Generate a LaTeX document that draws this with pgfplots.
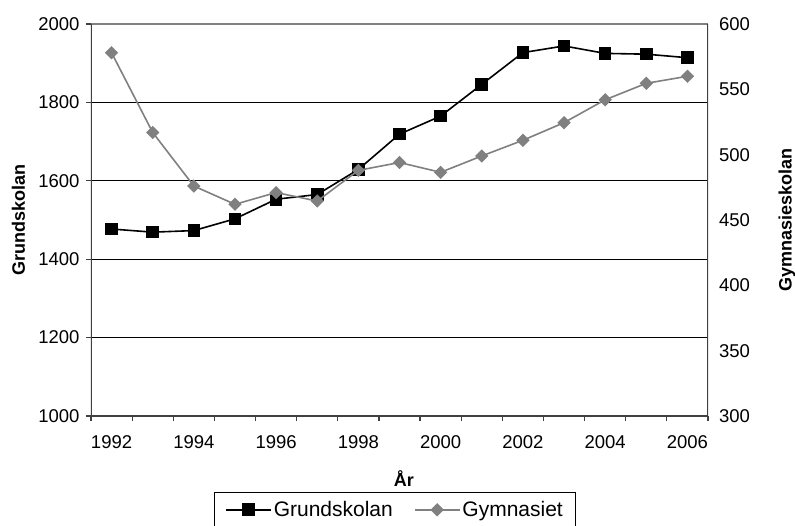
\documentclass[border=0pt]{standalone}
\usepackage{pgfplots}
\pgfplotsset{compat=1.18}
\usepackage{fontspec}
\setmainfont{Liberation Sans}
\definecolor{axgray}{HTML}{404040}
\definecolor{topgray}{HTML}{808080}
\definecolor{sergray}{HTML}{808080}
\newcommand{\tickfont}{\fontsize{18.5}{22}\selectfont}
\newcommand{\labfont}{\fontsize{18}{21.6}\selectfont\bfseries}
\newcommand{\legfont}{\fontsize{21}{25}\selectfont}
\pgfplotstableread{
x G Gy
0 1477 578
1 1469 517
2 1473 476
3 1503 462
4 1553 471
5 1565 464.5
6 1629 488
7 1719 494
8 1765 486.5
9 1846 499
10 1927 511
11 1944 524.5
12 1925 542
13 1923 554.6
14 1914 560
}\datatable
\begin{document}
\begin{tikzpicture}
\useasboundingbox (-91pt,-109pt) rectangle (704pt,416pt);
\clip (-91pt,-109pt) rectangle (704pt,416pt);
\begin{axis}[
  scale only axis, width=617pt, height=392pt,
  at={(0pt,0pt)}, anchor=south west,
  xmin=-0.5, xmax=14.5, ymin=1000, ymax=2000,
  axis line style={draw=none},
  xtick pos=bottom, ytick pos=left,
  xtick={-0.5,0.5,...,14.5}, xticklabels={},
  extra x ticks={0,2,...,14},
  extra x tick labels={1992,1994,1996,1998,2000,2002,2004,2006},
  extra x tick style={tick style={draw=none}},
  ytick={1000,1200,...,2000},
  tick align=outside, major tick length=5pt,
  tick style={axgray, line width=1.2pt},
  ymajorgrids, grid style={black, line width=0.8pt},
  scaled ticks=false,
  /pgf/number format/1000 sep={},
  /pgf/number format/assume math mode=true,
  xticklabel style={font=\tickfont, yshift=-11pt},
  yticklabel style={font=\tickfont, xshift=-3pt},
  xlabel={År},
  every axis x label/.style={at={(axis description cs:0.507,-0.16)}, anchor=center, font=\labfont},
  ylabel={Grundskolan},
  every axis y label/.style={at={(axis description cs:-0.1175,0.5)}, anchor=center, rotate=90, font=\labfont},
  legend columns=2,
  legend style={at={(axis description cs:0.4927,-0.1939)}, anchor=north,
    draw=black, line width=0.8pt, fill=white, font=\legfont,
    inner xsep=11pt, inner ysep=7pt,
    /tikz/every even column/.append style={column sep=19pt}},
  legend image code/.code={\draw[mark repeat=2,mark phase=2,#1] plot coordinates {(0pt,0pt) (22.5pt,0pt) (45pt,0pt)};},
]
\addplot[black, line width=1.6pt, mark=square*, mark size=5.5pt, mark options={solid, fill=black}] table[x=x, y=G] {\datatable};
\addlegendentry{Grundskolan}
\addlegendimage{sergray, line width=1.6pt, mark=square*, mark size=3.9pt, mark options={solid, rotate=45, fill=sergray}}
\addlegendentry{Gymnasiet}
\draw[topgray, line width=1.5pt] (rel axis cs:0,1) -- (rel axis cs:1,1);
\draw[axgray, line width=1.8pt] (rel axis cs:0,1) -- (rel axis cs:0,0) -- (rel axis cs:1,0) -- (rel axis cs:1,1);
\end{axis}
\begin{axis}[
  scale only axis, width=617pt, height=392pt,
  at={(0pt,0pt)}, anchor=south west,
  xmin=-0.5, xmax=14.5, ymin=300, ymax=600,
  axis x line=none, axis y line*=right,
  axis line style={draw=none},
  ytick={300,350,...,600},
  major tick length=0pt,
  ytick style={draw=none},
  /pgf/number format/1000 sep={},
  /pgf/number format/assume math mode=true,
  yticklabel style={font=\tickfont, xshift=7.5pt},
  ylabel={Gymnasieskolan},
  every axis y label/.style={at={(axis description cs:1.128,0.5)}, anchor=center, rotate=90, font=\labfont},
]
\addplot[sergray, line width=1.6pt, mark=square*, mark size=3.9pt, mark options={solid, rotate=45, fill=sergray}] table[x=x, y=Gy] {\datatable};
\end{axis}
\end{tikzpicture}
\end{document}
